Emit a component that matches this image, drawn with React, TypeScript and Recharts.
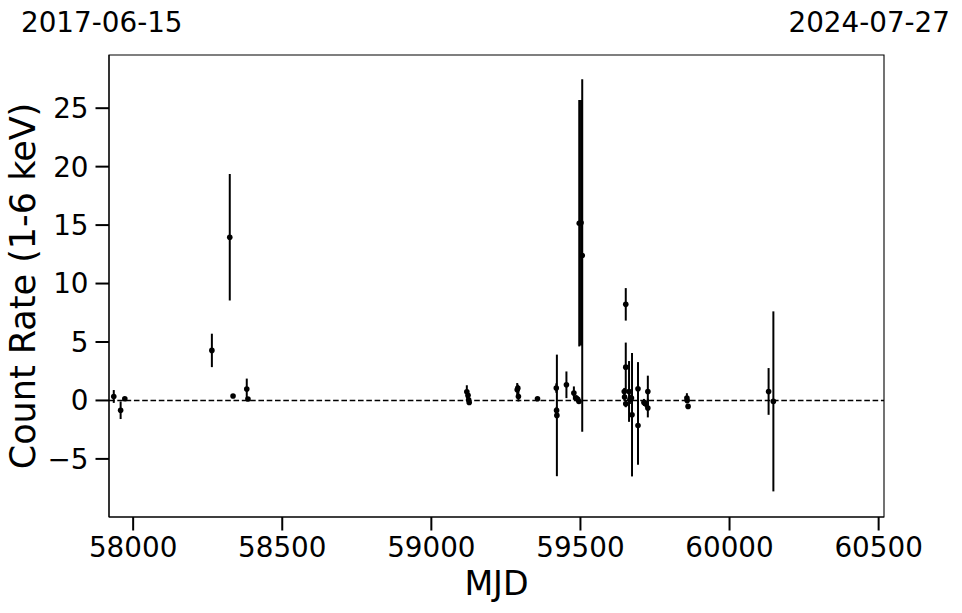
import React from "react";
import {
  ScatterChart,
  Scatter,
  XAxis,
  YAxis,
  ErrorBar,
  ReferenceLine,
  ReferenceArea,
} from "recharts";

// observation dates (MJD), count rates and 1-sigma errors
const mjd = [
  57935, 57958, 57972, 58264, 58324, 58335, 58381, 58385,
  59119, 59123, 59125, 59127, 59288, 59290, 59292, 59356,
  59419, 59420, 59421, 59453, 59478, 59486, 59491, 59495,
  59496, 59502, 59506, 59652, 59652, 59647, 59648, 59652,
  59663, 59666, 59671, 59673, 59693, 59693, 59713, 59719,
  59726, 59726, 59857, 59858, 59861, 60131, 60147,
];
const rate = [
  0.34, -0.84, 0.15, 4.28, 13.96, 0.38, 0.97, 0.12,
  0.75, 0.45, 0.05, -0.17, 0.91, 1.05, 0.34, 0.15,
  1.06, -0.85, -1.28, 1.34, 0.63, 0.2, 0.1, -0.09,
  15.16, 15.2, 12.4, 8.22, 2.85, 0.77, 0.29, -0.28,
  0.77, 0.1, 0.2, -1.22, 1.0, -2.14, -0.17, -0.28,
  -0.65, 0.77, 0.2, 0.0, -0.51, 0.77, -0.08,
];
const rateErr = [
  0.55, 0.75, 0.1, 1.43, 5.41, 0.1, 0.9, 0.15,
  0.55, 0.3, 0.2, 0.2, 0.58, 0.3, 0.43, 0.1,
  0.4, 0.3, 5.2, 1.14, 0.57, 0.25, 0.2, 0.2,
  10.54, 10.5, 15.07, 1.39, 2.1, 0.3, 0.3, 0.3,
  2.6, 0.4, 0.3, 5.28, 2.28, 3.36, 0.3, 0.3,
  0.8, 1.35, 0.42, 0.25, 0.2, 2.0, 7.7,
];

const xTicks = [58000, 58500, 59000, 59500, 60000, 60500];
const yTicks = [-5, 0, 5, 10, 15, 20, 25];
const startDate = "2017-06-15";
const endDate = "2024-07-27";
const xLabel = "MJD";
const yLabel = "Count Rate (1-6 keV)";

const xDomain = [57919, 60518];
const yDomain = [-9.97, 29.55];

const points = mjd.map((m, i) => ({ mjd: m, rate: rate[i], err: rateErr[i] }));

const font = "'DejaVu Sans', sans-serif";

const Dot = (props: any) => (
  <circle cx={props.cx} cy={props.cy} r={2.8} fill="#000" />
);

const tickStyle = { fill: "#000", fontSize: 27.8, fontFamily: font };
const tickLine = { stroke: "#000", strokeWidth: 2 };
const minus = (v: number) => String(v).replace("-", "\u2212");

export default function App() {
  return (
    <div
      style={{
        position: "absolute",
        left: 0,
        top: 0,
        width: 962,
        height: 613,
        background: "#fff",
      }}
    >
      <ScatterChart
        width={962}
        height={613}
        margin={{ top: 55, right: 78, bottom: 0, left: 0 }}
      >
        <ReferenceArea
          x1={xDomain[0]}
          x2={xDomain[1]}
          y1={yDomain[0]}
          y2={yDomain[1]}
          fill="none"
          fillOpacity={0}
          stroke="#000"
          strokeWidth={1.1}
        />
        <XAxis
          type="number"
          dataKey="mjd"
          domain={xDomain}
          ticks={xTicks}
          interval={0}
          allowDataOverflow
          height={96}
          tick={tickStyle}
          tickSize={13.5}
          tickMargin={7}
          tickLine={tickLine}
          axisLine={{ stroke: "#000", strokeWidth: 1.1 }}
        />
        <YAxis
          type="number"
          dataKey="rate"
          domain={yDomain}
          ticks={yTicks}
          interval={0}
          allowDataOverflow
          width={109}
          tick={tickStyle}
          tickFormatter={minus}
          tickSize={13.5}
          tickMargin={7}
          tickLine={tickLine}
          axisLine={{ stroke: "#000", strokeWidth: 1.1 }}
        />
        <ReferenceLine
          y={0}
          stroke="#000"
          strokeWidth={1.4}
          strokeDasharray="5.6 2.7"
        />
        <Scatter
          data={points}
          dataKey="rate"
          shape={Dot}
          isAnimationActive={false}
        >
          <ErrorBar
            dataKey="err"
            direction="y"
            width={0}
            stroke="#000"
            strokeWidth={2}
            isAnimationActive={false}
          />
        </Scatter>
      </ScatterChart>
      <svg
        width={962}
        height={613}
        style={{ position: "absolute", left: 0, top: 0, pointerEvents: "none" }}
      >
        <text x={21} y={32} fontSize={27.8} fontFamily={font} fill="#000">
          {startDate}
        </text>
        <text
          x={950}
          y={32}
          fontSize={27.8}
          fontFamily={font}
          fill="#000"
          textAnchor="end"
        >
          {endDate}
        </text>
        <text
          x={496.5}
          y={595}
          fontSize={33.3}
          fontFamily={font}
          fill="#000"
          textAnchor="middle"
        >
          {xLabel}
        </text>
        <text
          x={35}
          y={286}
          fontSize={35}
          fontFamily={font}
          fill="#000"
          textAnchor="middle"
          transform="rotate(-90 35 286)"
        >
          {yLabel}
        </text>
      </svg>
    </div>
  );
}
